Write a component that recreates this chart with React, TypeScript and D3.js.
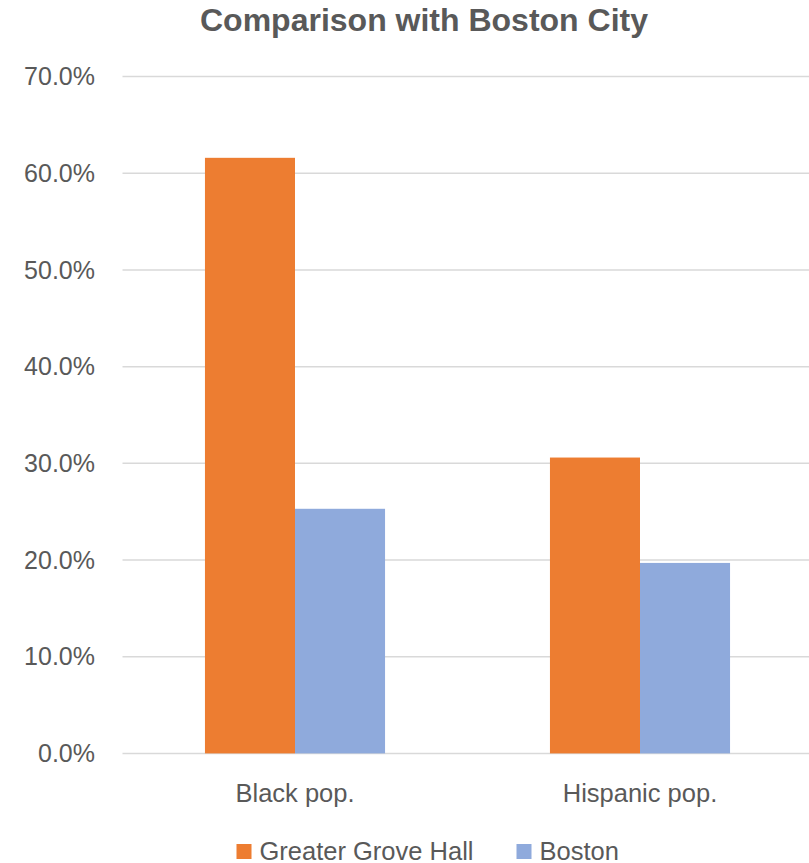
import React from "react";
import * as d3 from "d3";

const categories = ["Black pop.", "Hispanic pop."];
const seriesNames = ["Greater Grove Hall", "Boston"];
const greaterGroveHall = [61.6, 30.6];
const boston = [25.3, 19.7];
const yTicks = [0, 10, 20, 30, 40, 50, 60, 70];
const colors = ["#ED7D31", "#8FAADC"];

const W = 809;
const H = 863;
const FONT = "'Liberation Sans', Arial, sans-serif";
const TEXT = "#595959";

export default function App() {
  const plotLeft = 122.5;
  const plotRight = 812.5;
  const y = d3.scaleLinear().domain([0, 70]).range([753.4, 76.6]);
  const x0 = d3
    .scaleBand<string>()
    .domain(categories)
    .range([plotLeft, plotRight])
    .paddingInner(0.478)
    .paddingOuter(0.239);
  const x1 = d3
    .scaleBand<string>()
    .domain(seriesNames)
    .range([0, x0.bandwidth()])
    .padding(0);
  const values = [greaterGroveHall, boston];
  const fmt = (v: number) => v.toFixed(1) + "%";

  const legendX = [236.5, 516.5];

  return (
    <svg width={W} height={H} style={{ position: "absolute", left: 0, top: 0, background: "#fff" }}>
      <rect x={0} y={0} width={W} height={H} fill="#fff" />
      <text x={424} y={31} textAnchor="middle" fontFamily={FONT} fontWeight="bold" fontSize={32} fill={TEXT}>
        Comparison with Boston City
      </text>
      {yTicks.map((t) => (
        <g key={t}>
          <line x1={plotLeft} x2={W} y1={y(t)} y2={y(t)} stroke="#d9d9d9" strokeWidth={1.5} />
          <text x={95} y={y(t)} dy="0.35em" textAnchor="end" fontFamily={FONT} fontSize={25} fill={TEXT}>
            {fmt(t)}
          </text>
        </g>
      ))}
      {categories.map((c, i) => (
        <g key={c} transform={`translate(${x0(c)},0)`}>
          {seriesNames.map((s, j) => (
            <rect
              key={s}
              x={x1(s)}
              y={y(values[j][i])}
              width={x1.bandwidth()}
              height={y(0) - y(values[j][i])}
              fill={colors[j]}
            />
          ))}
        </g>
      ))}
      {categories.map((c) => (
        <text
          key={c}
          x={(x0(c) as number) + x0.bandwidth() / 2}
          y={802}
          textAnchor="middle"
          fontFamily={FONT}
          fontSize={25.5}
          fill={TEXT}
        >
          {c}
        </text>
      ))}
      {seriesNames.map((s, j) => (
        <g key={s}>
          <rect x={legendX[j]} y={844} width={15} height={15} fill={colors[j]} />
          <text x={legendX[j] + 23} y={859.5} fontFamily={FONT} fontSize={25.5} fill={TEXT}>
            {s}
          </text>
        </g>
      ))}
    </svg>
  );
}
